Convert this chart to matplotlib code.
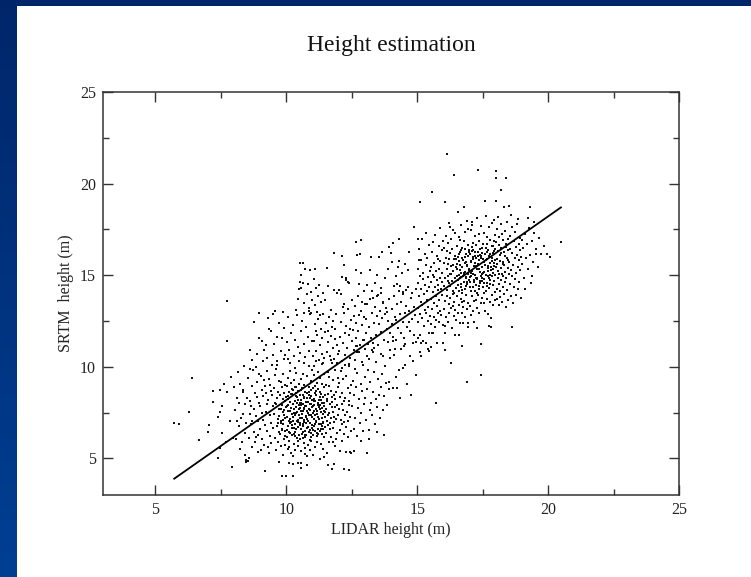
import numpy as np
import matplotlib
matplotlib.use("Agg")
import matplotlib.pyplot as plt
from matplotlib.patches import Rectangle
from matplotlib.colors import LinearSegmentedColormap

plt.rcParams['font.family'] = ['Liberation Serif', 'DejaVu Serif']

title = "Height estimation"
x_label = "LIDAR height (m)"
y_label = "SRTM  height (m)"
x_ticks = [5, 10, 15, 20, 25]
y_ticks = [5, 10, 15, 20, 25]

# regression line end points (LIDAR, SRTM)
fit_lidar = [5.72, 20.49]
fit_srtm = [3.89, 18.70]

# scatter points, grouped by region of the cloud: (LIDAR, SRTM)
far_left = [(5.72,6.91),(5.90,6.86),(6.29,7.51),(6.39,9.38),(6.65,6.02),(7.00,6.45),(7.03,6.82),(7.22,8.06),(7.19,8.67),(7.47,8.73),(7.45,7.53),(7.39,7.24),(7.38,5.00),(7.48,5.55),(7.72,11.38),(7.90,9.42),(7.91,4.51),(7.53,7.87),(7.55,6.40),(7.73,8.60),(7.73,13.58),(7.62,9.05),(7.84,7.05),(7.95,6.12),(7.68,5.90)]

left_mid = [(8.05,7.62),(8.12,8.31),(8.18,6.74),(8.22,9.05),(8.27,7.18),(8.31,5.92),(8.35,8.74),(8.41,7.95),(8.44,6.38),(8.48,4.92),(8.52,4.85),(8.57,5.01),(8.46,4.78),(8.55,9.41),(8.61,7.43),(8.63,8.12),(8.66,6.87),(8.70,5.63),(8.73,9.82),(8.77,7.71),(8.80,8.56),(8.83,6.15),(8.86,7.29),(8.89,9.15),(8.92,5.34),(8.95,8.02),(8.98,6.63),(9.01,7.88),(9.04,9.47),(9.07,6.05),(9.10,8.38),(9.13,7.12),(9.16,5.71),(9.19,8.93),(9.20,4.33),(9.22,7.55),(9.25,6.48),(9.28,9.76),(9.31,8.21),(9.34,5.28),(9.37,7.36),(9.40,8.67),(9.43,6.92),(9.46,10.12),(9.48,7.84),(8.08,6.05),(8.15,9.71),(8.25,5.52),(8.38,10.05),(8.50,8.28),(8.58,6.09),(8.68,8.95),(8.75,6.44),(8.85,9.98),(8.93,7.05),(9.03,5.46),(9.12,10.32),(9.18,6.82),(9.27,7.97),(9.33,9.34),(9.42,5.85),(9.45,8.46),(8.02,8.92),(8.33,7.41),(8.60,9.88),(8.88,8.33),(9.09,7.50),(9.36,6.21),(8.42,5.20),(8.71,7.03),(8.97,9.61),(9.24,8.55),(9.49,6.66),(8.20,8.00),(8.47,6.95),(8.79,5.88),(9.06,8.71),(9.38,9.02),(8.11,7.04),(8.65,7.87),(9.15,9.27),(8.36,8.62),(8.91,6.28),(9.29,5.63)]

low_cluster = [(9.52,7.41),(9.55,8.83),(9.57,6.12),(9.58,9.55),(9.60,5.47),(9.61,7.96),(9.63,6.78),(9.64,8.27),(9.66,10.08),(9.67,7.15),(9.69,5.92),(9.70,8.61),(9.71,6.44),(9.72,9.23),(9.73,7.68),(9.74,4.82),(9.56,8.02),(9.62,9.88),(9.68,6.95),(9.74,7.33),
(9.76,8.45),(9.77,6.31),(9.78,7.72),(9.79,5.68),(9.80,9.17),(9.81,7.04),(9.82,4.04),(9.83,8.88),(9.84,6.59),(9.85,7.93),(9.86,5.21),(9.87,8.24),(9.88,9.62),(9.89,6.86),(9.90,7.39),(9.91,10.41),(9.92,6.03),(9.93,8.57),(9.94,7.18),(9.95,5.74),(9.96,9.01),(9.97,6.47),(9.98,7.81),(9.99,8.36),(9.78,6.92),(9.86,7.55),(9.94,6.24),
(10.00,4.04),(10.01,7.27),(10.02,8.93),(10.03,6.15),(10.04,7.86),(10.05,5.53),(10.06,9.41),(10.07,6.78),(10.08,8.22),(10.09,7.05),(10.10,5.96),(10.11,8.64),(10.12,6.42),(10.13,7.59),(10.14,10.18),(10.15,6.91),(10.16,8.07),(10.17,5.28),(10.18,7.74),(10.19,9.12),(10.20,6.26),(10.21,7.43),(10.22,8.49),(10.23,6.64),(10.24,4.71),(10.02,6.55),(10.07,7.61),(10.11,5.62),(10.16,9.78),(10.19,6.99),(10.23,8.81),(10.05,8.38),(10.13,7.15),
(10.26,4.06),(10.26,7.02),(10.27,8.71),(10.28,6.33),(10.29,7.68),(10.30,5.81),(10.31,9.27),(10.32,6.87),(10.33,8.14),(10.34,7.36),(10.35,5.44),(10.36,8.92),(10.37,6.58),(10.38,7.81),(10.39,9.66),(10.40,6.12),(10.41,7.54),(10.42,8.37),(10.43,5.97),(10.44,7.11),(10.45,8.68),(10.46,6.73),(10.47,10.34),(10.48,7.92),(10.49,6.28),(10.27,5.12),(10.31,7.46),(10.35,6.21),(10.38,8.56),(10.42,7.03),(10.45,5.66),(10.48,9.05),(10.33,9.93),(10.40,8.03),(10.12,4.75),(10.45,4.76),(10.58,4.74),
(10.51,7.18),(10.52,8.47),(10.53,6.04),(10.54,7.77),(10.55,9.35),(10.56,6.61),(10.57,8.02),(10.58,5.39),(10.59,7.42),(10.60,8.86),(10.61,6.35),(10.62,7.96),(10.63,9.58),(10.64,6.89),(10.65,7.58),(10.66,5.84),(10.67,8.31),(10.68,7.09),(10.69,10.22),(10.70,6.47),(10.71,7.85),(10.72,8.64),(10.73,5.57),(10.74,7.31),(10.52,6.92),(10.55,4.48),(10.58,8.19),(10.62,6.76),(10.66,9.01),(10.69,7.67),(10.73,6.18),(10.57,7.56),(10.64,8.44),(10.71,5.26),
(10.76,7.84),(10.77,6.26),(10.78,8.58),(10.79,7.13),(10.80,9.47),(10.81,6.68),(10.82,8.09),(10.83,5.73),(10.84,7.49),(10.85,8.92),(10.86,6.42),(10.87,7.71),(10.88,10.06),(10.89,6.95),(10.90,8.27),(10.91,5.46),(10.92,7.62),(10.93,9.21),(10.94,6.14),(10.95,7.98),(10.96,8.71),(10.97,6.83),(10.98,7.27),(10.99,9.84),(10.78,5.12),(10.83,7.03),(10.87,8.44),(10.91,6.57),(10.95,5.95),(10.98,8.16),(10.80,4.62),(10.94,7.37),
(11.01,7.46),(11.02,8.83),(11.03,6.29),(11.04,7.91),(11.05,9.56),(11.06,6.75),(11.07,8.12),(11.08,5.64),(11.09,7.38),(11.10,8.97),(11.11,6.51),(11.12,7.69),(11.13,10.31),(11.14,6.98),(11.15,8.45),(11.16,5.91),(11.17,7.57),(11.18,9.14),(11.19,6.22),(11.20,8.03),(11.21,7.24),(11.22,9.72),(11.23,6.63),(11.24,7.83),(11.03,5.18),(11.08,8.58),(11.12,7.05),(11.17,6.41),(11.21,8.77),(11.06,10.02),
(11.26,7.15),(11.27,8.62),(11.28,6.47),(11.29,7.94),(11.30,9.38),(11.31,6.86),(11.32,8.21),(11.33,5.79),(11.34,7.52),(11.35,9.07),(11.36,6.34),(11.37,7.73),(11.38,10.14),(11.39,6.99),(11.40,8.36),(11.41,5.52),(11.42,7.41),(11.43,8.89),(11.44,6.17),(11.45,7.86),(11.46,9.63),(11.47,6.72),(11.48,8.48),(11.49,7.28),(11.29,4.97),(11.35,8.03),(11.41,6.63),(11.46,7.61),(11.43,5.09),
(11.51,7.67),(11.52,9.02),(11.53,6.41),(11.55,8.24),(11.56,7.06),(11.58,9.71),(11.59,6.83),(11.60,8.51),(11.62,5.87),(11.63,7.45),(11.65,8.93),(11.66,6.58),(11.67,7.98),(11.69,10.37),(11.70,7.21),(11.71,8.67),(11.72,6.19),(11.74,7.82),(11.54,5.31),(11.57,8.12),(11.61,7.37),(11.64,9.46),(11.68,6.92),(11.73,8.35),(11.58,4.63),(11.73,4.42),
(11.76,8.08),(11.77,6.64),(11.79,7.54),(11.80,9.27),(11.82,6.97),(11.83,8.46),(11.85,5.68),(11.86,7.79),(11.88,9.85),(11.89,7.13),(11.91,8.62),(11.92,6.38),(11.94,7.91),(11.95,10.22),(11.97,7.36),(11.98,8.88),(11.78,5.92),(11.84,7.25),(11.90,6.05),(11.96,9.41),(11.81,4.71),(11.87,8.24),
(12.01,7.72),(12.03,9.13),(12.04,6.54),(12.06,8.37),(12.08,7.08),(12.09,9.76),(12.11,6.86),(12.13,8.59),(12.14,5.93),(12.16,7.64),(12.18,9.34),(12.19,6.31),(12.21,8.12),(12.23,10.08),(12.24,7.38),(12.05,5.41),(12.12,7.97),(12.20,6.96),(12.21,4.42),
(12.26,8.27),(12.28,6.72),(12.30,9.48),(12.32,7.51),(12.34,8.84),(12.36,6.18),(12.38,7.93),(12.40,10.17),(12.42,7.24),(12.44,8.56),(12.46,6.49),(12.48,9.03),(12.29,5.36),(12.35,7.02),(12.41,8.11),(12.47,5.27),(12.39,4.38),(12.44,5.35)]

low_core = [(10.08,7.92),(10.14,6.37),(10.19,8.53),(10.24,7.26),(10.29,6.64),(10.33,8.87),(10.37,7.48),(10.41,6.09),(10.46,8.16),(10.49,7.67),(10.53,6.81),(10.56,8.74),(10.59,7.23),(10.62,6.46),(10.66,8.35),(10.69,7.01),(10.72,6.28),(10.75,8.07),(10.79,7.56),(10.82,6.73),(10.85,8.62),(10.88,7.35),(10.91,6.02),(10.94,8.41),(10.97,7.79),(11.01,6.54),(11.04,8.26),(11.07,7.14),(11.11,6.87),(11.14,8.69),(11.17,7.43),(11.21,6.31),(11.24,8.18),(11.27,7.71),(11.31,6.58),(11.34,8.51),(11.38,7.19),(11.42,6.91),(11.45,8.02),(11.49,7.52),(10.11,7.04),(10.27,7.95),(10.43,6.97),(10.58,7.89),(10.74,6.95),(10.89,7.98),(11.05,7.56),(11.21,7.92),(11.36,6.77),(10.35,6.44),(10.65,6.12),(10.95,6.38),(11.25,6.86),(10.51,8.04),(10.81,8.29),(11.11,8.13),(10.22,6.83),(10.47,7.36),(10.77,7.28),(11.02,7.87),(10.39,8.41),(10.68,7.77),(10.98,6.66),(11.28,8.37),(9.88,7.12),(9.95,8.14),(9.82,6.57),(9.92,7.64)]

low_right = [(12.52,7.86),(12.55,9.21),(12.57,6.63),(12.60,8.48),(12.62,10.35),(12.64,7.19),(12.67,8.92),(12.69,6.21),(12.72,9.67),(12.74,7.74),(12.77,8.26),(12.79,10.83),(12.82,6.94),(12.84,9.04),(12.87,7.47),(12.89,8.69),(12.92,10.12),(12.94,6.47),(12.97,7.98),(12.99,9.46),(13.02,8.31),(13.05,7.09),(13.07,10.58),(13.10,8.77),(13.12,9.83),(13.15,6.55),(13.16,6.07),(13.18,7.62),(13.21,9.18),(13.24,8.04),(13.27,10.94),(13.29,7.36),(13.32,8.61),(13.35,9.72),(13.38,6.88),(13.41,8.23),(13.44,10.26),(13.47,7.81),(13.50,9.34),(13.53,8.47),(13.57,7.19),(13.60,10.71),(13.63,8.92),(13.67,9.58),(13.70,7.64),(13.74,8.39),(13.78,10.03),(13.82,9.12),(13.86,7.93),(13.91,8.76),(13.95,10.47),(12.58,5.42),(12.85,5.96),(13.08,5.31),(13.46,6.42),(13.72,6.26),(12.66,11.12),(13.33,11.32),(12.96,11.46),
(14.06,8.84),(14.23,8.86),(14.34,8.28),(14.63,9.04),(13.92,9.18),(14.21,9.45),(14.46,9.91),(14.94,9.55),(14.85,10.33),(14.97,11.36),(15.03,11.55),(14.12,10.62),(14.38,10.95),(14.55,11.22),(14.71,10.58),(14.08,11.41),(14.29,9.83),(15.12,10.81),(14.78,8.47),(14.52,10.12)]

upper_left = [(8.60,10.90),(8.70,10.38),(8.78,12.46),(8.97,11.55),(9.07,11.42),(9.32,12.64),(9.35,12.06),(9.40,11.98),(9.63,11.60),(9.63,10.31),(8.88,10.71),(9.15,10.93),(9.22,11.18),(9.48,10.62),(9.55,11.24),(9.71,12.38),(9.78,10.85),(9.84,11.57),(9.90,12.12),(9.96,10.66),(10.03,11.34),(10.08,12.71),(10.12,10.92),(10.18,11.82),(10.24,12.29),(10.29,10.59),(10.35,11.47),(10.41,12.85),(10.46,11.06),(10.52,10.74),(10.57,11.93),(10.61,12.48),(10.66,11.27),(10.72,10.51),(10.77,12.16),(10.83,11.62),(10.88,10.88),(10.93,12.94),(10.97,11.39),(9.27,10.47),(9.58,13.02),(10.05,10.44),(9.50,12.87),(8.95,12.95),(10.38,13.12),(9.88,12.97),(10.87,13.04)]

spike = [(10.52,15.64),(10.62,15.69),(10.71,15.33),(10.56,15.02),(10.52,14.64),(10.62,14.55),(10.48,14.24),(10.46,13.72),(10.58,14.31),(10.66,13.48),(10.79,13.96),(10.82,14.54),(10.86,13.21),(10.91,15.28),(10.96,14.09),(11.00,13.62),(11.04,14.77),(11.08,13.35),(11.11,15.33),(11.15,14.28),(11.20,13.84),(11.26,14.46),(11.32,13.51),(11.40,14.02),(11.57,15.38),(11.47,13.66),(11.60,14.41),(10.68,12.95),(10.90,12.88),(11.18,12.97)]

upper_mid = [(11.83,16.19),(12.13,16.04),(12.21,15.58),(12.66,16.82),(12.87,16.91),(12.71,16.09),(12.81,16.13),(13.25,16.00),(13.55,15.97),(13.64,16.24),(14.08,16.77),(14.30,16.99),(14.87,17.64),(14.68,16.27),(12.30,14.84),(12.34,14.62),(12.27,14.71),(12.41,14.55),(12.11,14.91),(11.83,14.18),(11.93,14.05),(12.02,14.21),(12.08,13.98),(12.68,15.29),(12.79,14.51),(12.86,15.12),(12.95,14.12),(12.73,13.86),(13.09,14.46),(13.19,15.27),(13.40,14.58),(13.52,13.92),(13.63,14.31),(13.71,13.54),(13.78,14.82),(14.00,16.19),(14.02,15.70),(14.26,15.42),(14.31,15.77),(14.42,15.11),(14.55,15.63),(14.64,15.29),(14.12,14.42),(14.19,14.97),(14.23,14.51),(14.46,14.09),(14.58,14.21),(15.03,16.97),(15.07,15.82),(13.02,13.41),(13.31,13.78),(13.88,15.36),(13.47,15.02),(12.52,13.64),(12.18,13.27),(11.72,13.11),(13.92,16.52)]

bridge = [(11.02,10.58),(11.05,11.43),(11.09,12.31),(11.13,10.87),(11.16,11.76),(11.20,12.62),(11.24,10.39),(11.27,11.18),(11.31,12.04),(11.35,10.72),(11.38,11.55),(11.42,12.89),(11.45,10.46),(11.49,11.92),(11.52,12.37),(11.56,10.83),(11.59,11.34),(11.63,12.71),(11.66,10.58),(11.70,11.67),(11.73,12.18),(11.77,11.02),(11.80,12.52),(11.84,10.41),(11.87,11.49),(11.91,12.86),(11.94,11.21),(11.98,10.69),(11.12,11.95),(11.39,10.21),(11.61,11.98),(11.86,12.05),(11.28,12.83),(11.74,10.22),
(12.02,10.84),(12.05,11.62),(12.09,12.47),(12.12,10.31),(12.16,11.28),(12.19,12.93),(12.23,11.85),(12.26,10.62),(12.30,12.21),(12.33,11.04),(12.37,13.17),(12.40,11.71),(12.44,10.48),(12.47,12.56),(12.51,11.39),(12.54,12.02),(12.58,10.93),(12.61,13.32),(12.65,11.58),(12.68,12.37),(12.72,10.79),(12.75,11.96),(12.79,12.84),(12.82,11.17),(12.86,13.05),(12.89,12.28),(12.93,11.46),(12.96,12.69),(12.99,10.98),(12.14,9.92),(12.38,10.06),(12.63,9.88),(12.88,10.27),(12.21,13.41),(12.57,12.79),(12.91,13.54),(12.43,12.08),(12.71,11.12),
(13.03,11.84),(13.06,12.62),(13.10,13.43),(13.13,11.27),(13.17,12.18),(13.20,13.71),(13.24,11.56),(13.27,12.94),(13.31,10.82),(13.34,12.41),(13.38,13.26),(13.41,11.73),(13.45,12.77),(13.48,13.88),(13.52,11.21),(13.55,12.35),(13.59,13.04),(13.62,11.92),(13.66,12.66),(13.69,13.47),(13.73,11.48),(13.76,12.88),(13.80,13.19),(13.83,12.06),(13.87,11.34),(13.90,12.52),(13.94,13.72),(13.97,11.87),(13.15,10.45),(13.42,10.28),(13.71,10.61),(13.95,10.94),(13.28,14.12),(13.61,14.03),(13.36,11.03),(13.84,12.97),
(14.02,12.31),(14.05,13.18),(14.09,11.64),(14.12,13.87),(14.16,12.72),(14.19,11.45),(14.23,13.41),(14.26,12.09),(14.30,14.16),(14.33,12.86),(14.37,11.82),(14.40,13.54),(14.44,12.47),(14.47,13.96),(14.51,11.59),(14.54,12.93),(14.58,13.32),(14.61,12.18),(14.65,14.38),(14.68,13.07),(14.72,11.94),(14.75,13.73),(14.79,12.61),(14.82,14.05),(14.86,11.73),(14.89,13.26),(14.93,12.84),(14.96,14.27),(14.15,10.97),(14.49,11.12),(14.84,11.28),(14.35,14.42),(14.70,12.42),(14.21,12.58)]

high_cluster = [(15.02,13.21),(15.03,14.58),(15.04,12.47),(15.05,15.36),(15.07,13.84),(15.08,16.42),(15.09,12.86),(15.10,14.97),(15.12,11.73),(15.13,13.52),(15.14,15.81),(15.16,14.23),(15.17,12.64),(15.18,16.95),(15.20,13.37),(15.21,14.79),(15.22,11.41),(15.24,15.12),(15.25,13.96),(15.26,12.23),(15.28,16.18),(15.29,14.45),(15.30,13.08),(15.32,15.57),(15.33,12.92),(15.34,17.31),(15.36,14.11),(15.37,13.63),(15.38,15.94),(15.40,12.51),(15.41,14.88),(15.42,13.29),(15.44,16.63),(15.45,11.87),(15.46,14.36),(15.48,15.24),(15.49,12.78),(15.15,10.58),(15.42,10.95),(15.46,10.86),(15.35,11.30),(15.16,11.29),(15.52,11.06),(15.10,18.97),
(15.51,13.72),(15.52,15.43),(15.53,12.34),(15.54,14.61),(15.55,19.53),(15.56,16.27),(15.57,11.82),(15.58,13.18),(15.59,15.02),(15.60,14.07),(15.61,11.87),(15.62,16.81),(15.63,12.71),(15.64,14.92),(15.65,13.46),(15.66,15.68),(15.67,12.16),(15.68,14.33),(15.69,17.22),(15.70,13.89),(15.71,8.02),(15.72,15.21),(15.73,12.58),(15.74,14.74),(15.75,16.04),(15.76,13.31),(15.77,11.30),(15.78,14.49),(15.79,15.89),(15.80,12.96),(15.81,14.18),(15.82,16.57),(15.83,13.64),(15.84,15.33),(15.85,12.42),(15.86,14.86),(15.87,17.58),(15.88,13.05),(15.89,15.76),(15.90,14.27),(15.92,12.83),(15.93,16.38),(15.94,13.92),(15.95,15.11),(15.96,14.63),(15.97,12.27),(15.98,16.86),(15.99,11.30),
(16.01,14.42),(16.02,15.67),(16.03,13.15),(16.04,16.49),(16.05,11.82),(16.06,14.83),(16.07,10.90),(16.07,18.97),(16.08,13.58),(16.09,15.94),(16.10,12.69),(16.11,17.12),(16.12,14.21),(16.13,21.64),(16.14,15.35),(16.15,13.86),(16.16,16.73),(16.17,12.44),(16.18,14.97),(16.19,15.62),(16.20,13.41),(16.21,17.86),(16.22,14.56),(16.23,12.95),(16.24,16.21),(16.25,15.08),(16.26,13.74),(16.27,14.39),(16.28,10.22),(16.29,16.98),(16.30,13.22),(16.31,15.51),(16.32,14.68),(16.33,12.13),(16.34,16.44),(16.35,13.97),(16.36,15.23),(16.37,17.47),(16.38,14.14),(16.39,12.78),(16.40,15.86),(16.41,20.47),(16.42,13.53),(16.43,16.06),(16.44,14.87),(16.45,13.08),(16.46,17.29),(16.47,15.44),(16.48,14.31),(16.49,12.57),(16.05,12.22),(16.21,15.91),(16.36,13.31),(16.44,11.75),(16.12,16.33),(16.27,17.63),(16.41,14.02),
(16.51,15.32),(16.52,13.86),(16.53,16.61),(16.54,18.46),(16.55,14.48),(16.56,12.91),(16.57,15.97),(16.58,11.73),(16.59,14.13),(16.60,17.08),(16.61,13.39),(16.62,15.58),(16.63,14.82),(16.64,12.38),(16.65,16.26),(16.66,13.71),(16.67,15.14),(16.68,17.73),(16.69,14.36),(16.70,11.15),(16.70,12.96),(16.71,16.49),(16.72,15.42),(16.73,14.05),(16.74,13.27),(16.75,12.40),(16.76,15.83),(16.77,18.71),(16.78,14.64),(16.79,16.88),(16.80,13.58),(16.81,15.19),(16.82,14.27),(16.83,12.69),(16.84,17.35),(16.85,15.71),(16.86,13.93),(16.87,16.14),(16.88,14.91),(16.89,13.14),(16.90,15.48),(16.91,17.96),(16.92,9.16),(16.92,14.52),(16.93,12.18),(16.94,16.67),(16.94,12.40),(16.95,15.06),(16.96,13.46),(16.97,14.74),(16.98,16.39),(16.99,15.27),(16.53,14.97),(16.62,16.92),(16.71,13.54),(16.79,15.04),(16.86,14.41),(16.96,17.51),(16.58,15.76),(16.84,16.01),(16.66,14.88),
(17.01,14.63),(17.02,16.15),(17.03,13.32),(17.04,15.71),(17.05,17.44),(17.06,14.97),(17.07,12.84),(17.08,16.52),(17.09,15.23),(17.10,13.89),(17.11,17.91),(17.12,14.38),(17.13,15.86),(17.14,13.05),(17.15,16.78),(17.16,14.71),(17.17,15.48),(17.18,12.43),(17.19,16.29),(17.20,14.12),(17.21,15.03),(17.22,17.16),(17.23,13.67),(17.24,15.94),(17.25,14.49),(17.26,16.63),(17.27,13.21),(17.28,15.36),(17.29,18.12),(17.30,12.13),(17.30,14.84),(17.31,20.73),(17.32,16.07),(17.33,13.92),(17.34,15.59),(17.35,17.27),(17.36,14.26),(17.37,15.81),(17.38,12.96),(17.39,16.44),(17.40,14.57),(17.41,15.15),(17.42,13.48),(17.43,17.68),(17.44,14.93),(17.45,11.25),(17.45,9.53),(17.46,16.21),(17.47,15.42),(17.48,13.76),(17.49,14.68),(17.04,14.16),(17.13,16.35),(17.22,15.67),(17.29,14.02),(17.37,16.88),(17.46,15.08),(17.09,17.72),(17.18,13.58),(17.42,16.02),
(17.51,15.86),(17.52,14.37),(17.53,16.72),(17.54,13.48),(17.55,15.19),(17.56,17.33),(17.57,14.81),(17.58,16.17),(17.59,13.07),(17.60,15.54),(17.61,18.24),(17.62,14.16),(17.63,16.48),(17.64,15.02),(17.65,13.72),(17.66,17.07),(17.67,14.59),(17.68,15.91),(17.69,12.88),(17.70,16.36),(17.71,14.93),(17.72,15.37),(17.73,12.22),(17.74,17.61),(17.75,14.28),(17.76,16.04),(17.77,13.54),(17.78,15.66),(17.79,16.91),(17.80,14.72),(17.81,12.15),(17.82,15.28),(17.83,12.64),(17.84,16.58),(17.85,13.93),(17.86,15.77),(17.87,17.85),(17.88,14.44),(17.89,16.23),(17.90,15.12),(17.91,13.36),(17.92,16.84),(17.93,14.67),(17.94,15.49),(17.95,18.03),(17.96,14.09),(17.97,16.41),(17.98,15.83),(17.99,13.62),(17.60,19.04),(17.55,14.03),(17.68,16.69),(17.79,14.51),(17.88,15.34),(17.99,17.19),
(18.00,20.69),(18.00,20.29),(18.00,19.04),(18.01,15.47),(18.02,16.83),(18.03,14.26),(18.04,17.52),(18.05,15.91),(18.06,13.68),(18.07,16.34),(18.08,14.87),(18.09,18.17),(18.10,15.23),(18.11,13.35),(18.12,16.67),(18.13,14.54),(18.14,17.09),(18.15,15.76),(18.16,14.11),(18.17,16.12),(18.18,13.82),(18.19,17.78),(18.20,15.38),(18.20,19.64),(18.21,14.73),(18.22,16.49),(18.23,15.04),(18.24,13.51),(18.25,17.26),(18.26,15.62),(18.27,14.38),(18.28,16.91),(18.29,14.97),(18.30,18.70),(18.31,16.26),(18.32,13.96),(18.33,15.57),(18.34,17.42),(18.35,14.62),(18.36,16.03),(18.37,15.18),(18.38,13.24),(18.39,16.71),(18.40,14.85),(18.41,20.29),(18.42,15.93),(18.43,17.91),(18.44,14.19),(18.45,16.38),(18.46,15.41),(18.47,13.67),(18.48,16.96),(18.49,15.06),(18.50,18.78),
(18.52,15.72),(18.53,17.14),(18.55,14.53),(18.56,16.42),(18.58,13.87),(18.59,15.28),(18.61,12.18),(18.61,17.63),(18.63,14.96),(18.64,16.21),(18.66,15.57),(18.67,13.49),(18.69,16.87),(18.70,14.34),(18.72,15.94),(18.73,17.36),(18.75,14.78),(18.76,16.53),(18.78,15.13),(18.79,13.92),(18.81,16.08),(18.82,17.81),(18.84,15.46),(18.85,14.23),(18.87,16.71),(18.88,15.82),(18.90,14.61),(18.91,17.02),(18.93,15.29),(18.94,16.36),(18.96,13.74),(18.97,15.98),(18.99,16.94),(18.57,18.31),(18.86,18.07),
(19.02,15.63),(19.05,16.48),(19.08,14.87),(19.10,14.24),(19.12,17.24),(19.15,15.92),(19.19,16.71),(19.22,15.34),(19.26,17.58),(19.29,16.12),(19.32,18.73),(19.34,14.60),(19.37,14.95),(19.40,16.84),(19.44,15.71),(19.48,17.33),(19.52,16.41),(19.55,16.16),(19.60,15.47),(19.66,17.02),(19.74,16.15),(19.83,16.62),(19.97,16.13),(20.09,15.97),(20.48,16.82),(19.25,18.12),(19.45,17.92)]

high_core = [(16.52,15.61),(16.56,14.74),(16.61,16.18),(16.64,15.27),(16.69,14.52),(16.73,15.93),(16.77,15.12),(16.81,16.42),(16.85,14.83),(16.89,15.56),(16.93,16.07),(16.97,15.34),(17.01,14.91),(17.05,15.78),(17.09,16.31),(17.13,15.07),(17.17,14.62),(17.21,16.02),(17.25,15.49),(17.29,14.78),(17.33,16.24),(17.37,15.32),(17.41,14.69),(17.45,15.96),(17.49,16.51),(17.53,15.14),(17.57,14.57),(17.61,15.82),(17.65,16.29),(17.69,15.23),(17.73,14.86),(17.77,16.13),(17.81,15.44),(17.85,14.96),(17.89,16.62),(17.93,15.67),(17.97,15.01),(16.58,15.03),(16.66,16.37),(16.74,14.97),(16.82,15.68),(16.91,14.64),(16.99,16.24),(17.07,15.11),(17.15,15.99),(17.23,14.84),(17.31,15.63),(17.39,16.08),(17.47,14.82),(17.55,15.73),(17.63,16.48),(17.71,15.51),(17.79,15.02),(17.87,15.92),(17.95,16.34),(16.47,15.87),(16.38,15.54),(16.28,15.07),(16.19,14.66),(18.04,15.62),(18.12,15.08),(18.21,16.19),(18.29,15.71),(18.38,16.53),(18.46,15.83),(16.71,14.21),(17.03,14.38),(17.35,14.41),(17.67,14.39)]

groups = [far_left, left_mid, low_cluster, low_core, low_right, upper_left, spike,
          upper_mid, bridge, high_cluster, high_core]
lidar = np.array([p[0] for g in groups for p in g])
srtm = np.array([p[1] for g in groups for p in g])

W, H = 751, 577
fig = plt.figure(figsize=(W / 100, H / 100), dpi=100)

# slide background: blue frame with white content area
bg = fig.add_axes([0, 0, 1, 1], zorder=-10)
grad = np.linspace(0, 1, 256).reshape(-1, 1)
cmap = LinearSegmentedColormap.from_list("slide", ["#00266a", "#003f93"])
bg.imshow(grad, aspect="auto", cmap=cmap, extent=[0, 1, 0, 1], origin="upper")
bg.add_patch(Rectangle((17 / W, 0), 1, 1 - 6 / H, facecolor="white", edgecolor="none"))
bg.set_xlim(0, 1)
bg.set_ylim(0, 1)
bg.axis("off")

ax = fig.add_axes([103 / W, 82 / H, 576 / W, 403 / H])
ax.set_facecolor("white")
ax.plot(lidar, srtm, linestyle="none", marker="s", markersize=1.5, color="#111111",
        markeredgewidth=0)
ax.plot(fit_lidar, fit_srtm, color="black", linewidth=1.3)

ax.set_xlim(3, 25)
ax.set_ylim(3, 25)
ax.set_xticks(x_ticks)
ax.set_yticks(y_ticks)
ax.set_xticks([7.5, 12.5, 17.5, 22.5], minor=True)
ax.set_yticks([7.5, 12.5, 17.5, 22.5], minor=True)
ax.tick_params(which="both", direction="in", top=True, right=True, colors="#333333",
               labelsize=11.5, labelcolor="#222222")
ax.tick_params(which="major", length=7.5, width=1.0, pad=5)
ax.tick_params(which="minor", length=4.3, width=1.0)
for s in ax.spines.values():
    s.set_linewidth(1.1)
    s.set_color("#333333")

ax.set_xlabel(x_label, fontsize=11.5, labelpad=3, color="#222222")
ax.set_ylabel(y_label, fontsize=11.5, labelpad=4, color="#222222")
fig.text(391 / W, 1 - 46 / H, title, ha="center", va="center", fontsize=17, color="#111111")

fig.savefig("out.png", dpi=100)
